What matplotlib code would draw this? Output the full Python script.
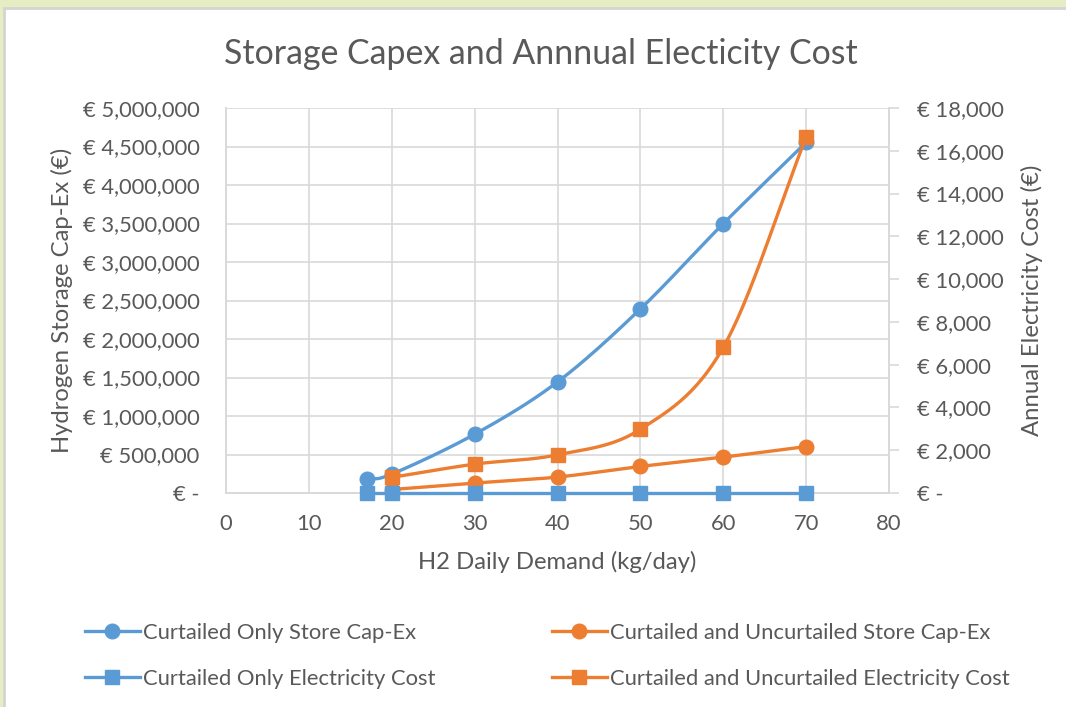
import numpy as np
import matplotlib.pyplot as plt
from matplotlib.patches import Rectangle
from matplotlib.ticker import FuncFormatter, MultipleLocator

# Dados
demand = [17, 20, 30, 40, 50, 60, 70]
demand_both = [20, 30, 40, 50, 60, 70]

capex_curtailed = [181000, 245000, 763000, 1442000, 2390000, 3498000, 4554000]
capex_both = [45000, 129000, 207000, 345000, 466000, 603000]
elec_curtailed = [0, 0, 0, 0, 0, 0, 0]
elec_both = [730, 1350, 1784, 2979, 6811, 16640]

labels = ["Curtailed Only Store Cap-Ex", "Curtailed Only Electricity Cost",
          "Curtailed and Uncurtailed Store Cap-Ex", "Curtailed and Uncurtailed Electricity Cost"]

BLUE = '#5B9BD5'
ORANGE = '#ED7D31'
GRAY_TXT = '#595959'
GRID = '#d9d9d9'

plt.rcParams['font.family'] = ['Lato', 'DejaVu Sans']


def smooth(x, y, n=30):
    """Curva suavizada estilo Excel (Catmull-Rom)."""
    x = np.asarray(x, float)
    y = np.asarray(y, float)
    if len(x) < 3:
        return x, y
    px = np.concatenate([[2 * x[0] - x[1]], x, [2 * x[-1] - x[-2]]])
    py = np.concatenate([[2 * y[0] - y[1]], y, [2 * y[-1] - y[-2]]])
    xs, ys = [], []
    t = np.linspace(0, 1, n)
    for i in range(1, len(px) - 2):
        for p, out in ((px, xs), (py, ys)):
            p0, p1, p2, p3 = p[i - 1], p[i], p[i + 1], p[i + 2]
            out.append(0.5 * ((2 * p1) + (-p0 + p2) * t
                              + (2 * p0 - 5 * p1 + 4 * p2 - p3) * t ** 2
                              + (-p0 + 3 * p1 - 3 * p2 + p3) * t ** 3))
    return np.concatenate(xs), np.concatenate(ys)


fig = plt.figure(figsize=(10.66, 7.07), dpi=100)

# fundo verde claro e moldura
fig.patches.append(Rectangle((0, 0), 1, 1, transform=fig.transFigure,
                             facecolor='#e7edc3', edgecolor='none', zorder=-3))
fig.patches.append(Rectangle((4 / 1066, -0.01), 1.1, 1 - 8 / 707 + 0.01,
                             transform=fig.transFigure, facecolor='white',
                             edgecolor='#d4d4d4', linewidth=2.0, zorder=-2))

ax = fig.add_axes([226 / 1066, 1 - 493 / 707, (889 - 226) / 1066, (493 - 108) / 707])
ax2 = ax.twinx()

lw = 2.4
ms = 10.5

sx, sy = smooth(demand, capex_curtailed)
ax.plot(sx, sy, color=BLUE, lw=lw, zorder=3)
ax.plot(demand, capex_curtailed, 'o', color=BLUE, ms=ms, zorder=4)

sx, sy = smooth(demand_both, capex_both)
ax.plot(sx, sy, color=ORANGE, lw=lw, zorder=3)
ax.plot(demand_both, capex_both, 'o', color=ORANGE, ms=ms, zorder=4)

ax2.plot(demand, elec_curtailed, color=BLUE, lw=lw, zorder=3, clip_on=False)
ax2.plot(demand, elec_curtailed, 's', color=BLUE, ms=ms, zorder=4, clip_on=False)

sx, sy = smooth(demand_both, elec_both)
ax2.plot(sx, sy, color=ORANGE, lw=lw, zorder=3)
ax2.plot(demand_both, elec_both, 's', color=ORANGE, ms=ms, zorder=4, clip_on=False)

ax.set_xlim(0, 80)
ax.set_ylim(0, 5000000)
ax2.set_ylim(0, 18000)
ax.xaxis.set_major_locator(MultipleLocator(10))
ax.yaxis.set_major_locator(MultipleLocator(500000))
ax2.yaxis.set_major_locator(MultipleLocator(2000))


def euro(v, pos):
    if v == 0:
        return '€ -'
    return '€ {:,.0f}'.format(v)


ax.yaxis.set_major_formatter(FuncFormatter(euro))
ax2.yaxis.set_major_formatter(FuncFormatter(euro))

ax.grid(True, color=GRID, lw=1.2)
ax.set_axisbelow(True)
for a in (ax, ax2):
    for s in a.spines.values():
        s.set_color(GRID)
        s.set_linewidth(1.2)
    a.tick_params(labelsize=15.8, colors=GRAY_TXT)
ax.spines['top'].set_visible(False)
ax2.spines['top'].set_visible(False)
ax.tick_params(axis='y', length=0, pad=19)
ax.tick_params(axis='x', length=0, pad=15)
ax2.tick_params(axis='y', length=7, color=GRID, width=1.2, pad=13.5)
for t in ax.get_yticklabels() + ax.get_xticklabels() + ax2.get_yticklabels():
    t.set_color(GRAY_TXT)

ax.set_xlabel('H2 Daily Demand (kg/day)', fontsize=17.2, color=GRAY_TXT, labelpad=12)
ax.set_ylabel('Hydrogen Storage Cap-Ex (€)', fontsize=17.2, color=GRAY_TXT, labelpad=7)
ax2.set_ylabel('Annual Electricity Cost (€)', fontsize=17.2, color=GRAY_TXT, labelpad=12)

fig.text(541 / 1066, 1 - 54 / 707, 'Storage Capex and Annnual Electicity Cost',
         ha='center', va='center', fontsize=24.4, color=GRAY_TXT)

# legenda
handles = [
    plt.Line2D([], [], color=BLUE, lw=lw, marker='o', ms=ms),
    plt.Line2D([], [], color=BLUE, lw=lw, marker='s', ms=ms),
    plt.Line2D([], [], color=ORANGE, lw=lw, marker='o', ms=ms),
    plt.Line2D([], [], color=ORANGE, lw=lw, marker='s', ms=ms),
]
fig.legend(handles, labels, ncol=2, loc='center left', bbox_to_anchor=(85 / 1066, 1 - 656 / 707),
           frameon=False, fontsize=15.8, labelcolor=GRAY_TXT, handlelength=2.5,
           handletextpad=0.15, columnspacing=5.3, labelspacing=1.2,
           borderpad=0, borderaxespad=0)

fig.savefig('out.png', dpi=100)
